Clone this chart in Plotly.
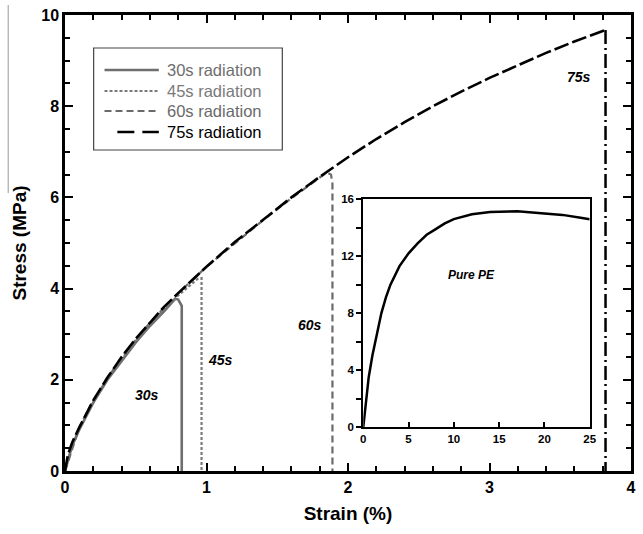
import plotly.graph_objects as go

# ---- data ----
x30 = [0, 0.05, 0.1, 0.2, 0.3, 0.4, 0.5, 0.6, 0.7, 0.78, 0.80, 0.825, 0.825]
y30 = [0, 0.55, 0.9, 1.5, 2.0, 2.42, 2.82, 3.18, 3.5, 3.78, 3.76, 3.62, 0]

x45 = [0, 0.05, 0.1, 0.2, 0.3, 0.4, 0.5, 0.6, 0.7, 0.8, 0.9, 0.94, 0.965, 0.965]
y45 = [0, 0.55, 0.92, 1.52, 2.02, 2.45, 2.85, 3.2, 3.55, 3.85, 4.1, 4.22, 4.23, 0]

x60 = [0, 0.1, 0.2, 0.4, 0.6, 0.8, 1.0, 1.2, 1.4, 1.6, 1.8, 1.85, 1.88, 1.89, 1.89]
y60 = [0, 0.95, 1.55, 2.5, 3.25, 3.9, 4.48, 5.0, 5.5, 5.98, 6.45, 6.55, 6.5, 6.3, 0]

x75 = [0, 0.02, 0.05, 0.1, 0.2, 0.3, 0.4, 0.5, 0.6, 0.7, 0.8, 0.9, 1.0, 1.2, 1.4,
       1.6, 1.8, 2.0, 2.2, 2.4, 2.6, 2.8, 3.0, 3.2, 3.4, 3.6, 3.82]
y75 = [0, 0.35, 0.62, 0.95, 1.55, 2.05, 2.5, 2.9, 3.25, 3.6, 3.9, 4.2, 4.48, 5.02, 5.52,
       6.0, 6.45, 6.88, 7.28, 7.65, 8.0, 8.32, 8.62, 8.9, 9.17, 9.42, 9.67]

xpe = [0, 0.3, 0.6, 1, 1.5, 2, 2.5, 3, 4, 5, 6, 7, 8, 9, 10, 12, 14, 16, 17, 18, 20, 22, 24, 25]
ype = [0, 2, 3.5, 5, 6.6, 8, 9.1, 10, 11.3, 12.2, 12.9, 13.5, 13.9, 14.3, 14.6, 14.95,
       15.1, 15.15, 15.15, 15.1, 15.0, 14.9, 14.7, 14.6]

series_names = ["30s radiation", "45s radiation", "60s radiation", "75s radiation"]
series_colors = ["#6e6e6e", "#7a7a7a", "#6a6a6a", "#000000"]
series_dash = ["solid", "3px,2px", "7px,4px", "15px,4px"]
legend_dash = ["solid", "3px,2px", "7px,4px", "17px,8px"]
series_width = [2.6, 2.2, 2.2, 2.6]

labels = ["30s", "45s", "60s", "75s"]
label_x = [0.58, 1.10, 1.73, 3.63]
label_y = [1.67, 2.43, 3.2, 8.64]

FONT = "Liberation Sans, Arial, sans-serif"

fig = go.Figure()
for xs, ys, nm, c, d, w in zip([x30, x45, x60, x75], [y30, y45, y60, y75],
                               series_names, series_colors, series_dash, series_width):
    fig.add_trace(go.Scatter(x=xs, y=ys, mode="lines", name=nm, showlegend=False,
                             line=dict(color=c, width=w, dash=d)))
# 75s fracture drop
fig.add_trace(go.Scatter(x=[x75[-1], x75[-1]], y=[y75[-1], 0], mode="lines",
                         showlegend=False,
                         line=dict(color="black", width=2.5, dash="14px,4px,2px,4px")))
# inset
fig.add_trace(go.Scatter(x=xpe, y=ype, mode="lines", showlegend=False,
                         xaxis="x2", yaxis="y2",
                         line=dict(color="black", width=2.5)))

for t, lx, ly in zip(labels, label_x, label_y):
    fig.add_annotation(x=lx, y=ly, text=f"<b><i>{t}</i></b>", showarrow=False,
                       font=dict(family=FONT, size=14, color="black"))
fig.add_annotation(x=12, y=10.7, xref="x2", yref="y2", text="<b><i>Pure PE</i></b>",
                   showarrow=False, font=dict(family=FONT, size=12, color="black"))

# ---- hand-drawn legend box (longer line samples as in reference) ----
def px2x(px):
    return (px - 65) / 573.0

def py2y(py):
    return (471 - py) / 456.0

fig.add_shape(type="rect", xref="paper", yref="paper",
              x0=px2x(94), x1=px2x(285), y0=py2y(150), y1=py2y(48),
              line=dict(color="#444", width=1.2), fillcolor="white", layer="below")
row_py = [70, 91, 111, 132]
for i, (nm, c, d, w) in enumerate(zip(series_names, series_colors, legend_dash, series_width)):
    yy = py2y(row_py[i])
    x_start = px2x(118) if i == 3 else px2x(105)
    fig.add_shape(type="line", xref="paper", yref="paper",
                  x0=x_start, x1=px2x(160), y0=yy, y1=yy,
                  line=dict(color=c, width=w, dash=d))
    fig.add_annotation(xref="paper", yref="paper", x=px2x(166), y=yy, xanchor="left",
                       yanchor="middle", text=nm, showarrow=False,
                       font=dict(family=FONT, size=16.5, color=c if i < 3 else "black"))

axis_main = dict(showline=True, linewidth=2.5, linecolor="black", mirror="allticks",
                 ticks="inside", ticklen=8, tickwidth=2, tickcolor="black",
                 showgrid=False, zeroline=False,
                 tickfont=dict(family=FONT, size=16, color="black", weight="bold"))

fig.update_layout(
    width=643, height=534,
    margin=dict(l=65, r=5, t=15, b=63),
    paper_bgcolor="white", plot_bgcolor="white",
    font=dict(family=FONT, color="black"),
    showlegend=False,
    xaxis=dict(range=[0, 4], dtick=1, tick0=0,
               minor=dict(dtick=0.2, ticks="inside", ticklen=5, tickwidth=2, tickcolor="black"),
               title=dict(text="<b>Strain (%)</b>", font=dict(family=FONT, size=19), standoff=12),
               **axis_main),
    yaxis=dict(range=[0, 10], dtick=2, tick0=0,
               minor=dict(dtick=0.5, ticks="inside", ticklen=5, tickwidth=2, tickcolor="black"),
               title=dict(text="<b>Stress (MPa)</b>", font=dict(family=FONT, size=19), standoff=10),
               **axis_main),
    xaxis2=dict(domain=[0.527, 0.927], anchor="y2", range=[0, 25], dtick=5,
                showline=True, linewidth=2, linecolor="black", mirror=True,
                ticks="inside", ticklen=5, tickwidth=1.5, tickcolor="black",
                showgrid=False, zeroline=False,
                tickfont=dict(family=FONT, size=11.5, color="black", weight="bold")),
    yaxis2=dict(domain=[0.0965, 0.596], anchor="x2", range=[0, 16], dtick=4,
                showline=True, linewidth=2, linecolor="black", mirror=True,
                ticks="outside", ticklen=5, tickwidth=1.5, tickcolor="black",
                minor=dict(dtick=2, ticks="outside", ticklen=5, tickwidth=1.5, tickcolor="black"),
                showgrid=False, zeroline=False,
                tickfont=dict(family=FONT, size=11.5, color="black", weight="bold")),
)

# faint scan artifact on left edge
fig.add_shape(type="line", xref="paper", yref="paper", x0=px2x(7.5), x1=px2x(7.5),
              y0=py2y(193), y1=py2y(5), line=dict(color="#999", width=1))

fig.write_html("out.html")
